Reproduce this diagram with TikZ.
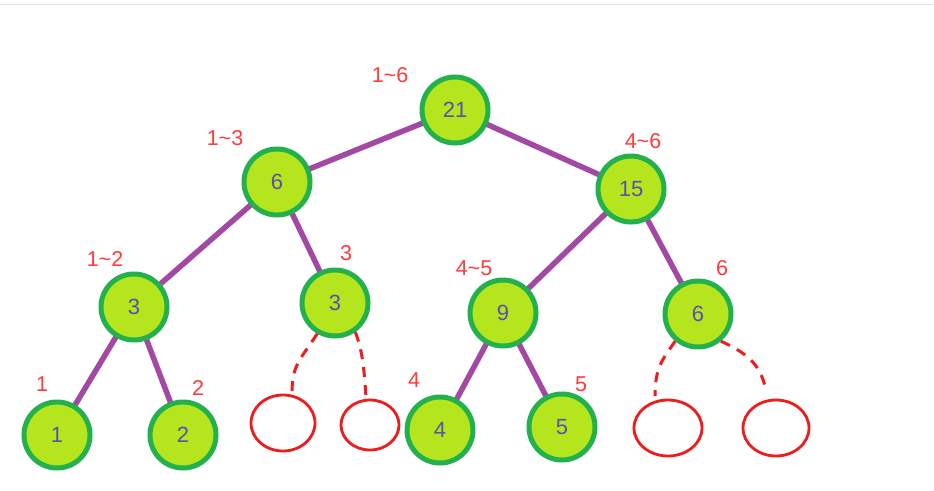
\documentclass[tikz,border=0pt]{standalone}
\usepackage{fontspec}
\setmainfont{Liberation Sans}
\usetikzlibrary{shapes.geometric}
\definecolor{lime}{HTML}{B5E61D}
\definecolor{grn}{HTML}{22B14C}
\definecolor{purp}{HTML}{A349A4}
\definecolor{numc}{HTML}{5A4FB0}
\definecolor{redl}{HTML}{FF3B3B}
\definecolor{redc}{HTML}{EE1C1C}
\tikzset{
  tnode/.style={circle,draw=grn,line width=5pt,fill=lime,minimum size=66pt,inner sep=0pt,text=numc,font=\fontsize{22}{22}\selectfont},
  enode/.style={ellipse,draw=redc,line width=2.8pt,fill=white,inner sep=0pt},
  edge/.style={purp,line width=5.5pt},
  dedge/.style={redc,line width=3pt,dash pattern=on 10pt off 8pt},
  lab/.style={text=redl,font=\fontsize{21.5}{21.5}\selectfont,inner sep=0pt}
}
\begin{document}
\begin{tikzpicture}[x=1pt,y=-1pt]
\useasboundingbox (0,0) rectangle (934,490);
\fill[white] (0,0) rectangle (934,490);
\draw[black!12,line width=1pt] (0,4) -- (934,4);
% nodes positions
\coordinate (c21) at (455,110);
\coordinate (c6) at (277,182);
\coordinate (c15) at (631,189);
\coordinate (c3a) at (134,307);
\coordinate (c3b) at (335,303);
\coordinate (c9) at (503,313);
\coordinate (c6b) at (698,314);
\coordinate (c1) at (57,435);
\coordinate (c2) at (183,435);
\coordinate (c4) at (440,430);
\coordinate (c5) at (562,427);
% edges
\draw[edge] (c21) -- (c6);
\draw[edge] (c21) -- (c15);
\draw[edge] (c6) -- (c3a);
\draw[edge] (c6) -- (c3b);
\draw[edge] (c15) -- (c9);
\draw[edge] (c15) -- (c6b);
\draw[edge] (c3a) -- (c1);
\draw[edge] (c3a) -- (c2);
\draw[edge] (c9) -- (c4);
\draw[edge] (c9) -- (c5);
% empty nodes
\node[enode,minimum width=64pt,minimum height=56pt] (e1) at (283,423) {};
\node[enode,minimum width=58pt,minimum height=50pt] (e2) at (370,425) {};
\node[enode,minimum width=68pt,minimum height=56pt] (e3) at (668,428) {};
\node[enode,minimum width=66pt,minimum height=56pt] (e4) at (776,428) {};
% tree nodes
\node[tnode] (n21) at (c21) {21};
\node[tnode] (n6) at (c6) {6};
\node[tnode] (n15) at (c15) {15};
\node[tnode] (n3a) at (c3a) {3};
\node[tnode] (n3b) at (c3b) {3};
\node[tnode] (n9) at (c9) {9};
\node[tnode] (n6b) at (c6b) {6};
\node[tnode] (n1) at (c1) {1};
\node[tnode] (n2) at (c2) {2};
\node[tnode] (n4) at (c4) {4};
\node[tnode] (n5) at (c5) {5};
% dashed connectors (free ends)
\coordinate (d1) at (292,393);
\coordinate (d2) at (366,398);
\coordinate (d3) at (655,396);
\coordinate (d4) at (765,386);
\draw[dedge] (n3b.240) .. controls (300,360) and (292,365) .. (d1);
\draw[dedge] (n3b.305) .. controls (362,350) and (364,365) .. (d2);
\draw[dedge] (n6b.230) .. controls (662,360) and (655,368) .. (d3);
\draw[dedge] (n6b.310) .. controls (752,355) and (760,368) .. (d4);
% labels
\node[lab] (l21) at (390,75) {1\textasciitilde6};
\node[lab] (l6) at (225,138) {1\textasciitilde3};
\node[lab] (l15) at (643,141) {4\textasciitilde6};
\node[lab] (l3a) at (105,259) {1\textasciitilde2};
\node[lab] (l3b) at (346,253) {3};
\node[lab] (l9) at (474,268) {4\textasciitilde5};
\node[lab] (l6b) at (722,268) {6};
\node[lab] (l1) at (42,384) {1};
\node[lab] (l2) at (198,388) {2};
\node[lab] (l4) at (414,380) {4};
\node[lab] (l5) at (581,384) {5};
\end{tikzpicture}
\end{document}
